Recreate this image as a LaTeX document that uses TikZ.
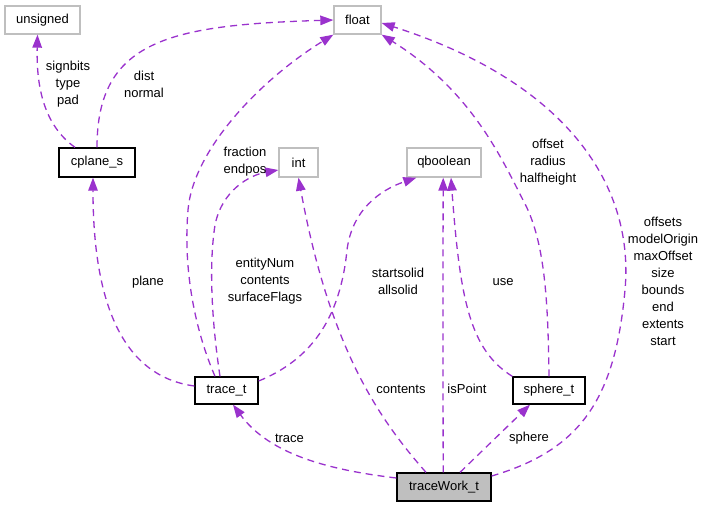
\documentclass[tikz,border=0pt]{standalone}
\usepackage{fontspec}
\setmainfont{Liberation Sans}
\usetikzlibrary{arrows.meta}
\definecolor{edgecol}{HTML}{9A32CD}
\definecolor{extcol}{HTML}{BFBFBF}
\begin{document}
\begin{tikzpicture}[x=1pt,y=-1pt,
  every node/.style={font=\fontsize{13}{17}\selectfont, inner sep=0pt},
  cls/.style={draw=black, line width=1.3pt, fill=white, minimum height=27pt},
  extcls/.style={draw=extcol, line width=1.3pt, fill=white, minimum height=28pt},
  maincls/.style={draw=black, line width=1.3pt, fill=extcol, minimum height=28pt},
  member/.style={draw=edgecol, line width=1.3pt, dash pattern=on 7pt off 5pt,
    -{Triangle[length=13pt,width=9.5pt,fill=edgecol]}},
  lbl/.style={align=center}]
\useasboundingbox (0,0) rectangle (704,507);

% classes
\node[extcls, minimum width=75pt] (unsigned) at (42.5,20) {unsigned};
\node[extcls, minimum width=47pt] (float) at (357.5,20) {float};
\node[cls, minimum width=76pt, minimum height=29pt] (cplane) at (97,162.5) {cplane\_s};
\node[extcls, minimum width=39pt, minimum height=29pt] (int) at (298.5,162.5) {int};
\node[extcls, minimum width=74pt, minimum height=29pt] (qbool) at (444,162.5) {qboolean};
\node[cls, minimum width=63pt] (trace) at (226.5,390.5) {trace\_t};
\node[cls, minimum width=72pt] (sphere) at (549,390.5) {sphere\_t};
\node[maincls, minimum width=94pt] (tw) at (444,487) {traceWork\_t};

% members of cplane_s
\draw[member] ([xshift=-22pt]cplane.north) .. controls (48,128) and (36,95) .. ([xshift=-5pt]unsigned.south);
\draw[member] (cplane.north) .. controls (97,40) and (170,25) .. (float.west);

% members of trace_t
\draw[member] ([yshift=4.5pt]trace.west) .. controls (135,378) and (93,325) .. ([xshift=-4pt]cplane.south);
\draw[member] ([xshift=-11.5pt]trace.north) .. controls (195,330) and (183,270) .. (188,210)
  .. controls (193,150) and (260,80) .. (float.south west);
\draw[member] ([xshift=-6.5pt]trace.north) .. controls (213,330) and (208,270) .. (215,225)
  .. controls (222,190) and (250,175) .. ([yshift=-7.5pt]int.west);
\draw[member] ([yshift=9.5pt]trace.east) .. controls (310,360) and (340,320) .. (347,250)
  .. controls (352,210) and (380,190) .. ([xshift=10pt]qbool.south west);

% members of sphere_t
\draw[member] (sphere.north west) .. controls (470,350) and (460,300) .. ([xshift=7pt]qbool.south);
\draw[member] (sphere.north) .. controls (548,300) and (545,240) .. (523,200)
  .. controls (500,155) and (470,90) .. (float.south east);

% members of traceWork_t
\draw[member] ([xshift=-18pt]tw.north) .. controls (380,420) and (330,350) .. (int.south);
\draw[member] ([xshift=-0.8pt]tw.north) .. controls (443,400) and (443,250) .. ([xshift=-0.8pt]qbool.south);
\draw[member] ([yshift=11pt]tw.east) .. controls (580,450) and (615,400) .. (625,290)
  .. controls (635,180) and (560,80) .. ([yshift=-3pt]float.east);
\draw[member] ([yshift=9pt]tw.west) .. controls (330,470) and (270,455) .. ([xshift=6.5pt]trace.south);
\draw[member] ([xshift=16pt]tw.north) -- ([xshift=-19pt]sphere.south);

% member names
\node[lbl] (l1) at (68,84.5) {signbits\\type\\pad};
\node[lbl] (l2) at (144,84) {dist\\normal};
\node[lbl] (l3) at (148,282) {plane};
\node[lbl] (l4) at (245,162) {fraction\\endpos};
\node[lbl] (l5) at (265,281) {entityNum\\contents\\surfaceFlags};
\node[lbl] (l6) at (398,281) {startsolid\\allsolid};
\node[lbl] (l7) at (401,389) {contents};
\node[lbl] (l8) at (467,389) {isPoint};
\node[lbl] (l9) at (503,282) {use};
\node[lbl] (l10) at (548,162) {offset\\radius\\halfheight};
\node[lbl] (l11) at (663,281.5) {offsets\\modelOrigin\\maxOffset\\size\\bounds\\end\\extents\\start};
\node[lbl] (l12) at (289.5,438) {trace};
\node[lbl] (l13) at (529,438) {sphere};
\end{tikzpicture}
\end{document}
